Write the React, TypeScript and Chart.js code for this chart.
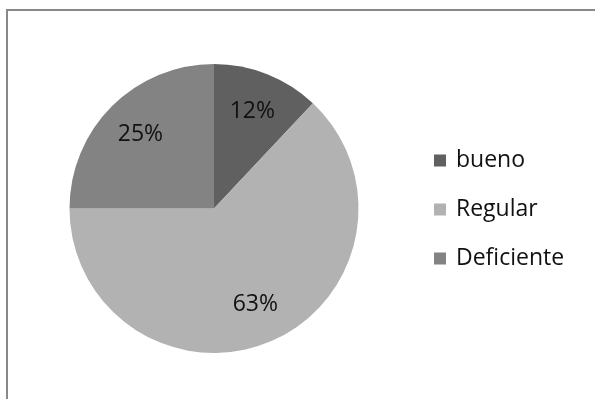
import React, { useEffect, useRef } from "react";
import { Chart, registerables } from "chart.js";

Chart.register(...registerables);

const categories = ["bueno", "Regular", "Deficiente"];
const values = [12, 63, 25];
const percentLabels = ["12%", "63%", "25%"];
const sliceColors = ["#606060", "#b2b2b2", "#838383"];

const FONT = "'Open Sans', sans-serif";

const pieLabelsPlugin = {
  id: "pieLabels",
  afterDatasetsDraw(chart: any) {
    const ctx = chart.ctx;
    const meta = chart.getDatasetMeta(0);
    ctx.save();
    ctx.font = `23px ${FONT}`;
    ctx.fillStyle = "#111111";
    ctx.textAlign = "center";
    ctx.textBaseline = "middle";
    meta.data.forEach((arc: any, i: number) => {
      const p = arc.getProps(["x", "y", "startAngle", "endAngle", "outerRadius"], true);
      const mid = (p.startAngle + p.endAngle) / 2;
      const r = p.outerRadius * 0.72;
      ctx.fillText(percentLabels[i], p.x + Math.cos(mid) * r, p.y + Math.sin(mid) * r);
    });
    ctx.restore();
  },
};

const sideLegendPlugin = {
  id: "sideLegend",
  afterDraw(chart: any) {
    const ctx = chart.ctx;
    const area = chart.chartArea;
    const boxSize = 12;
    const rowGap = 49;
    const left = area.right + 75;
    const cy = (area.top + area.bottom) / 2 + 1;
    ctx.save();
    ctx.font = `23px ${FONT}`;
    ctx.textBaseline = "middle";
    ctx.textAlign = "left";
    categories.forEach((name, i) => {
      const y = cy + (i - 1) * rowGap;
      ctx.fillStyle = sliceColors[i];
      ctx.fillRect(left, y - boxSize / 2, boxSize, boxSize);
      ctx.fillStyle = "#111111";
      ctx.fillText(name, left + boxSize + 10, y);
    });
    ctx.restore();
  },
};

export default function App() {
  const canvasRef = useRef<HTMLCanvasElement | null>(null);

  useEffect(() => {
    if (!canvasRef.current) return;
    const chart = new Chart(canvasRef.current, {
      type: "pie",
      data: {
        labels: categories,
        datasets: [
          {
            data: values,
            backgroundColor: sliceColors,
            borderWidth: 0,
          },
        ],
      },
      options: {
        responsive: false,
        animation: false,
        layout: { padding: { left: 69, right: 236, top: 64, bottom: 46 } },
        plugins: {
          legend: { display: false },
          tooltip: { enabled: false },
        },
      },
      plugins: [pieLabelsPlugin, sideLegendPlugin],
    });
    return () => chart.destroy();
  }, []);

  return (
    <div style={{ position: "absolute", left: 0, top: 0, width: 595, height: 399, background: "#ffffff" }}>
      <canvas ref={canvasRef} width={595} height={399} style={{ display: "block" }} />
      <div style={{ position: "absolute", left: 6, top: 9, width: 589, height: 2, background: "#888888" }} />
      <div style={{ position: "absolute", left: 6, top: 9, width: 2, height: 390, background: "#888888" }} />
    </div>
  );
}
